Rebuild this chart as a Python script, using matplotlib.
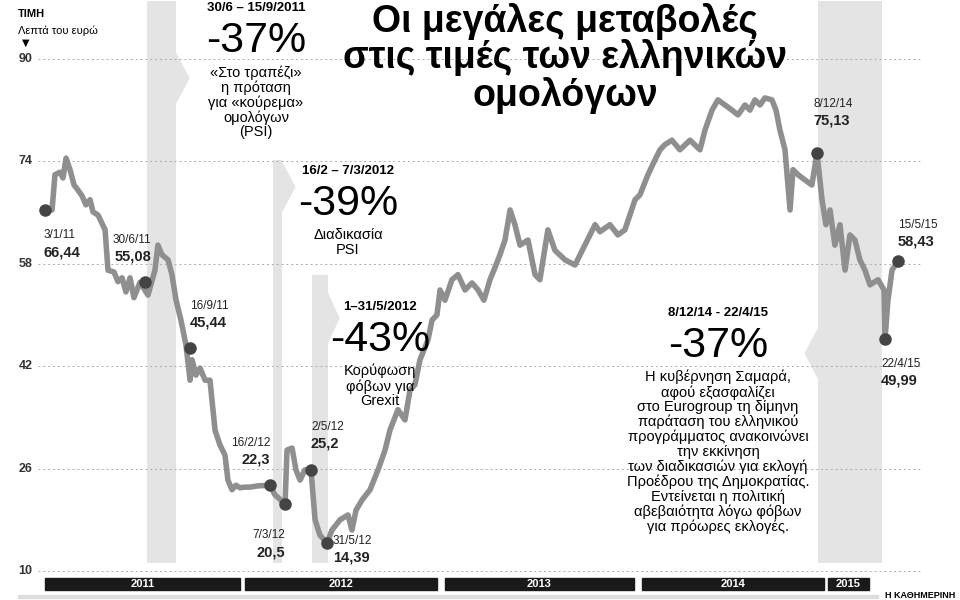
import matplotlib
matplotlib.use("Agg")
import matplotlib.pyplot as plt
from matplotlib.patches import Polygon, Rectangle

plt.rcParams['font.family'] = ['Liberation Sans', 'DejaVu Sans']

# time in years since 1/1/2011, price in euro cents
t = [0, .036, .051, .077, .092, .108, .128, .149, .169, .190, .210, .231, .246, .272, .308,
     .323, .354, .374, .395, .415, .436, .456, .487, .528, .564, .579, .600, .631, .651, .672,
     .697, .723, .744, .754, .774, .795, .821, .846, .872, .897, .923, .938, .959, .979, 1.0,
     1.026, 1.051, 1.092, 1.154, 1.179, 1.231, 1.241, 1.267, 1.287, 1.308, 1.333, 1.364, 1.385,
     1.410, 1.446, 1.472, 1.513, 1.554, 1.574, 1.595, 1.626, 1.667, 1.708, 1.744, 1.769, 1.810,
     1.846, 1.872, 1.897, 1.923, 1.964, 1.985, 2.010, 2.026, 2.051, 2.087, 2.118, 2.154, 2.190,
     2.221, 2.251, 2.282, 2.313, 2.333, 2.359, 2.385, 2.410, 2.436, 2.477, 2.513, 2.538, 2.579,
     2.615, 2.667, 2.718, 2.744, 2.769, 2.795, 2.821, 2.846, 2.897, 2.938, 2.974, 3.026, 3.051,
     3.092, 3.128, 3.154, 3.179, 3.215, 3.256, 3.308, 3.359, 3.385, 3.421, 3.451, 3.487, 3.523,
     3.554, 3.590, 3.615, 3.641, 3.667, 3.692, 3.728, 3.749, 3.769, 3.795, 3.821, 3.836, 3.862,
     3.897, 3.933, 3.959, 3.985, 4.005, 4.026, 4.051, 4.077, 4.103, 4.128, 4.154, 4.179, 4.205,
     4.231, 4.272, 4.303, 4.308, 4.323, 4.344, 4.374]
price = [66.4, 66.4, 71.9, 72.3, 71.4, 74.5, 72.7, 70.3, 69.5, 68.6, 67.2, 68.0, 66.1, 65.6, 63.3,
         57.0, 56.7, 55.2, 55.8, 53.6, 55.8, 52.7, 55.1, 53.1, 57.0, 60.9, 59.4, 58.6, 56.3, 52.3,
         49.2, 45.3, 39.8, 43.0, 40.6, 41.7, 39.8, 39.8, 32.0, 29.7, 28.1, 24.2, 22.7, 23.4, 23.0,
         23.1, 23.1, 23.3, 23.4, 21.9, 20.5, 28.9, 29.2, 25.8, 24.2, 25.8, 25.8, 18.0, 15.6,
         14.4, 16.4, 18.0, 18.75, 16.4, 19.5, 21.1, 22.7, 25.8, 28.9, 32.0, 35.2,
         33.6, 38.3, 39.1, 43.0, 46.1, 49.2, 50.0, 53.9, 52.3, 55.5, 56.3, 53.9, 55.0,
         53.9, 52.3, 55.5, 57.8, 59.4, 61.7, 66.4, 64.1, 60.9, 61.7, 56.3, 55.5, 63.3,
         60.1, 58.6, 57.8, 59.4, 60.9, 62.5, 64.1, 63.0, 64.1, 62.5, 63.3, 68.0, 68.75,
         71.9, 74.2, 75.8, 76.6, 77.3, 75.8, 77.3, 75.8, 78.9, 82.0, 83.6, 82.8, 82.0,
         81.25, 82.8, 82.0, 83.6, 82.8, 83.9, 83.6, 82.0, 78.9, 75.8, 66.4, 72.7, 71.9,
         71.1, 70.3, 75.3, 68.0, 64.1, 66.4, 60.9, 64.1, 57.0, 62.5, 61.7, 58.6, 57.0,
         54.7, 55.5, 53.9, 46.3, 52.3, 57.0, 58.4]
yticks = [10, 26, 42, 58, 74, 90]
years = ['2011', '2012', '2013', '2014', '2015']
year_spans = [(0, 1), (1.026, 2.01), (2.051, 3.02), (3.062, 3.995), (4.015, 4.226)]
bands = [(.523, .672, 99), (1.169, 1.215, 74.2), (1.369, 1.451, 56.2), (3.964, 4.292, 99)]
dots = [(0, 66.4, '3/1/11', '66,44'), (.513, 55.1, '30/6/11', '55,08'),
        (.744, 44.8, '16/9/11', '45,44'), (1.154, 23.4, '16/2/12', '22,3'),
        (1.231, 20.5, '7/3/12', '20,5'), (1.364, 25.8, '2/5/12', '25,2'),
        (1.446, 14.4, '31/5/12', '14,39'), (3.959, 75.3, '8/12/14', '75,13'),
        (4.308, 46.3, '22/4/15', '49,99'), (4.374, 58.4, '15/5/15', '58,43')]

fig = plt.figure(figsize=(9.6, 6), dpi=100)
ax = fig.add_axes([38 / 960, 25 / 600, 902 / 960, 575 / 600])
ax.set_xlim(-0.036, 4.590)
ax.set_ylim(9.375, 99.2)
ax.axis('off')

for a, b, top in bands:
    ax.add_patch(Rectangle((a, 11.3), b - a, top - 11.3, color='#e4e4e4', lw=0, zorder=0))
# arrow notches on the bands
for x0, ymid, dx in [(.672, 87, .07), (1.215, 70, .07), (1.451, 49.5, .06), (3.964, 44, -.07)]:
    ax.add_patch(Polygon([(x0, ymid + 4), (x0 + dx, ymid), (x0, ymid - 4)], color='#e4e4e4', lw=0))

for v in yticks:
    ax.plot([-0.036, 4.5], [v, v], ls=(0, (2, 3)), color='#aaaaaa', lw=0.7, zorder=1)
    ax.text(-0.1, v, str(v), ha='center', va='center', fontsize=9, weight='bold', color='#333')

ax.plot(t, price, color='#8f8f8f', lw=4, solid_joinstyle='round', zorder=3)

offs = {'3/1/11': (-.01, -3, 'left'), '30/6/11': (.03, 3, 'right'), '16/9/11': (.0, 3, 'left'),
        '16/2/12': (.0, 3, 'right'), '7/3/12': (.0, -4, 'right'), '2/5/12': (.0, 3, 'left'),
        '31/5/12': (.03, 1.3, 'left'), '8/12/14': (-.02, 4, 'left'), '22/4/15': (-.02, -3, 'left'),
        '15/5/15': (.0, 2, 'left')}
for x, y, d, val in dots:
    ax.plot(x, y, 'o', color='#444', ms=8, zorder=4)
    dx, dy, ha = offs[d]
    base = y + dy
    if dy > 0 and d != '31/5/12':
        ax.text(x + dx, base + 2.7, d, ha=ha, va='bottom', fontsize=8.5, color='#222')
        ax.text(x + dx, base, val, ha=ha, va='bottom', fontsize=10.5, weight='bold', color='#222')
    else:
        ax.text(x + dx, base, d, ha=ha, va='top', fontsize=8.5, color='#222')
        ax.text(x + dx, base - 2.5, val, ha=ha, va='top', fontsize=10.5, weight='bold', color='#222')

fig.text(18 / 960, 1 - 14 / 600, 'ΤΙΜΗ', fontsize=8, weight='bold', va='center')
fig.text(18 / 960, 1 - 31 / 600, 'Λεπτά του ευρώ', fontsize=8, va='center')
fig.text(26 / 960, 1 - 43 / 600, '▼', fontsize=7, ha='center', va='center',
         family='DejaVu Sans')

fig.text(565 / 960, 1 - 58 / 600, 'Οι μεγάλες μεταβολές\nστις τιμές των ελληνικών\nομολόγων',
         ha='center', va='center', fontsize=27, weight='bold', linespacing=1.0)


def block(x, y, head, pct, body, size=31):
    fig.text(x / 960, 1 - y / 600, head, ha='center', va='center', fontsize=9.5, weight='bold')
    fig.text(x / 960, 1 - (y + 33) / 600, pct, ha='center', va='center', fontsize=size)
    fig.text(x / 960, 1 - (y + 57) / 600, body, ha='center', va='top', fontsize=10.5,
             linespacing=1.05)


block(256, 8, '30/6 – 15/9/2011', '-37%', '«Στο τραπέζι»\nη πρόταση\nγια «κούρεμα»\nομολόγων\n(PSI)')
block(348, 171, '16/2 – 7/3/2012', '-39%', 'Διαδικασία\nPSI')
block(380, 307, '1–31/5/2012', '-43%', 'Κορύφωση\nφόβων για\nGrexit')
block(718, 313, '8/12/14 - 22/4/15', '-37%',
      'Η κυβέρνηση Σαμαρά,\nαφού εξασφαλίζει\nστο Eurogroup τη δίμηνη\nπαράταση του ελληνικού\n'
      'προγράμματος ανακοινώνει\nτην εκκίνηση\nτων διαδικασιών για εκλογή\n'
      'Προέδρου της Δημοκρατίας.\nΕντείνεται η πολιτική\nαβεβαιότητα λόγω φόβων\nγια πρόωρες εκλογές.')

# year bars
for (a, b), yr in zip(year_spans, years):
    x0 = ax.transData.transform((a, 0))[0] / 960
    x1 = ax.transData.transform((b, 0))[0] / 960
    fig.patches.append(Rectangle((x0, 1 - 590 / 600), x1 - x0, 12 / 600, color='#1a1a1a',
                                 transform=fig.transFigure, figure=fig))
    fig.text((x0 + x1) / 2, 1 - 584 / 600, yr, ha='center', va='center', fontsize=8,
             weight='bold', color='white')
fig.patches.append(Rectangle((18 / 960, 1 - 598 / 600), 860 / 960, 3 / 600, color='#dddddd',
                             transform=fig.transFigure, figure=fig))
fig.text(955 / 960, 1 - 595 / 600, 'Η ΚΑΘΗΜΕΡΙΝΗ', ha='right', va='center', fontsize=6.5,
         weight='bold')

fig.savefig('out.png', dpi=100)
